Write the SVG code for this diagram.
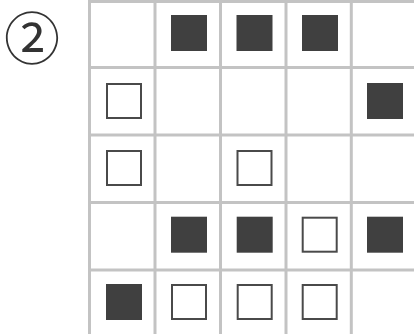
<svg xmlns="http://www.w3.org/2000/svg" width="414" height="334" viewBox="0 0 414 334">
<style>
.grid line{stroke:#c3c3c3;stroke-width:3}
.b{fill:#404040}
.w{fill:#ffffff;stroke:#4a4a4a;stroke-width:2}
.lbl{font-family:"Noto Sans CJK JP","DejaVu Sans",sans-serif;font-size:56px;fill:#333}
</style>
<rect width="414" height="334" fill="#fff"/>
<text class="lbl" x="32" y="59" text-anchor="middle">②</text>
<g id="connectors" class="grid">
<line x1="89.5" y1="0" x2="89.5" y2="334"/>
<line x1="155" y1="0" x2="155" y2="334"/>
<line x1="220.5" y1="0" x2="220.5" y2="334"/>
<line x1="286" y1="0" x2="286" y2="334"/>
<line x1="351.3" y1="0" x2="351.3" y2="334"/>
<line x1="88" y1="1.5" x2="414" y2="1.5"/>
<line x1="88" y1="67.5" x2="414" y2="67.5"/>
<line x1="88" y1="135" x2="414" y2="135"/>
<line x1="88" y1="202.5" x2="414" y2="202.5"/>
<line x1="88" y1="270" x2="414" y2="270"/>
</g>
<g id="r0c1"><rect class="b" x="171" y="15" width="36" height="36"/></g>
<g id="r0c2"><rect class="b" x="236.5" y="15" width="36" height="36"/></g>
<g id="r0c3"><rect class="b" x="302" y="15" width="36" height="36"/></g>
<g id="r1c0"><rect class="w" x="107" y="84" width="34" height="34"/></g>
<g id="r1c4"><rect class="b" x="367" y="83" width="36" height="36"/></g>
<g id="r2c0"><rect class="w" x="107" y="151" width="34" height="34"/></g>
<g id="r2c2"><rect class="w" x="237.5" y="151" width="34" height="34"/></g>
<g id="r3c1"><rect class="b" x="171" y="216.7" width="36" height="36"/></g>
<g id="r3c2"><rect class="b" x="236.7" y="216.7" width="36" height="36"/></g>
<g id="r3c3"><rect class="w" x="302.7" y="217.7" width="34" height="34"/></g>
<g id="r3c4"><rect class="b" x="367" y="216.7" width="36" height="36"/></g>
<g id="r4c0"><rect class="b" x="106" y="284" width="36" height="36"/></g>
<g id="r4c1"><rect class="w" x="172" y="285" width="34" height="34"/></g>
<g id="r4c2"><rect class="w" x="237.7" y="285" width="34" height="34"/></g>
<g id="r4c3"><rect class="w" x="302.7" y="285" width="34" height="34"/></g>
</svg>
